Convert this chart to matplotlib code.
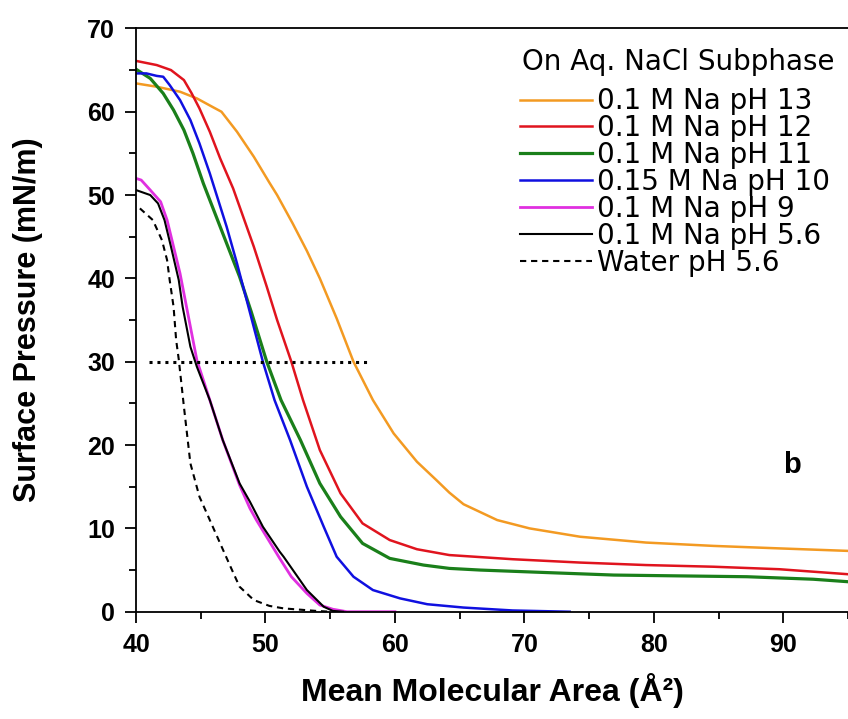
import matplotlib.pyplot as plt
from matplotlib.ticker import MultipleLocator

# isotherm traces: (mean molecular area, surface pressure)
ph13_x = [40, 41.6, 43.4, 44.7, 46.0, 46.6, 47.8, 49.1, 50.3, 50.9, 52.1, 53.2, 54.2, 55.5, 56.8, 58.3, 59.9, 61.7, 63.2, 64.2, 65.3, 67.9, 70.4, 74.3, 79.4, 84.6, 89.7, 95]
ph13_y = [63.4, 63.0, 62.4, 61.6, 60.5, 60.0, 57.6, 54.6, 51.5, 50.0, 46.6, 43.3, 40.0, 35.2, 30.0, 25.4, 21.4, 18.0, 15.8, 14.3, 12.9, 11.0, 10.0, 9.0, 8.3, 7.9, 7.6, 7.3]

ph12_x = [40, 41.6, 42.7, 43.7, 44.3, 44.9, 45.7, 46.5, 47.5, 49.1, 50.1, 50.9, 52.0, 52.9, 54.2, 55.8, 57.5, 59.6, 61.7, 64.2, 69.1, 74.3, 79.4, 84.6, 89.7, 95]
ph12_y = [66.1, 65.6, 65.0, 63.8, 62.2, 60.4, 57.6, 54.4, 50.8, 43.8, 39.0, 35.0, 30.0, 25.4, 19.4, 14.2, 10.6, 8.6, 7.5, 6.8, 6.3, 5.9, 5.6, 5.4, 5.1, 4.5]

ph11_x = [40, 41.1, 42.1, 42.9, 43.7, 44.4, 45.2, 46.0, 46.7, 48.0, 48.9, 50.1, 51.2, 52.7, 54.2, 55.8, 57.5, 59.6, 62.2, 64.2, 66.6, 71.7, 76.9, 82.0, 87.2, 92.3, 95]
ph11_y = [65.1, 64.0, 62.2, 60.2, 57.8, 55.0, 51.4, 48.2, 45.4, 40.2, 36.0, 30.0, 25.4, 20.6, 15.4, 11.4, 8.2, 6.4, 5.6, 5.2, 5.0, 4.7, 4.4, 4.3, 4.2, 3.9, 3.6]

ph10_x = [40, 40.8, 41.6, 42.1, 42.6, 43.4, 44.2, 44.9, 45.7, 47.0, 47.8, 48.7, 49.8, 50.7, 51.9, 53.2, 54.5, 55.5, 56.8, 58.3, 60.4, 62.5, 65.3, 69.1, 73.5]
ph10_y = [64.6, 64.6, 64.3, 64.2, 63.2, 61.4, 59.0, 56.2, 52.6, 46.2, 41.8, 36.5, 30.0, 25.4, 20.6, 15.0, 10.2, 6.6, 4.2, 2.6, 1.6, 0.9, 0.5, 0.15, 0.0]

ph9_x = [40, 40.4, 41.1, 41.9, 42.4, 42.9, 43.4, 43.8, 44.2, 44.7, 45.7, 46.7, 48.0, 48.8, 49.3, 51.1, 52.0, 53.2, 54.2, 55.2, 56.3, 60]
ph9_y = [52.0, 51.8, 50.6, 49.2, 47.0, 43.8, 40.6, 37.4, 34.2, 30.2, 25.4, 20.6, 15.2, 12.4, 11.0, 6.4, 4.2, 2.2, 0.8, 0.3, 0.0, 0.0]

ph56_x = [40, 41.1, 41.7, 42.2, 42.7, 43.3, 43.6, 44.2, 44.7, 45.7, 46.7, 48.0, 48.8, 49.8, 51.1, 51.4, 53.2, 54.5, 55.2, 56.0]
ph56_y = [50.6, 50.0, 49.0, 47.0, 43.8, 39.8, 36.6, 31.8, 29.4, 25.4, 20.6, 15.4, 13.2, 10.2, 7.2, 6.6, 2.6, 0.6, 0.1, 0.0]

water_x = [40.3, 41.3, 42.0, 42.4, 42.6, 42.9, 43.1, 43.3, 43.7, 44.2, 44.9, 45.7, 46.5, 47.3, 48.0, 49.1, 50.3, 51.4, 53.9, 55.0]
water_y = [48.4, 47.0, 44.6, 42.2, 39.8, 36.6, 32.6, 30.3, 24.6, 17.8, 13.8, 11.0, 8.2, 5.4, 3.0, 1.4, 0.7, 0.4, 0.1, 0.0]

# 30 mN/m reference line
ref_x = [41.0, 58.1]
ref_y = [30, 30]

bold_font = ["Liberation Sans", "DejaVu Sans"]
legend_font = ["DejaVu Sans"]

fig = plt.figure(figsize=(8.48, 7.19), dpi=100)
ax = fig.add_axes([0.1604, 0.1492, 0.8396, 0.8113])

ax.plot(ph13_x, ph13_y, c="#F39A22", lw=1.8, label="0.1 M Na pH 13")
ax.plot(ph12_x, ph12_y, c="#E0141E", lw=1.8, label="0.1 M Na pH 12")
ax.plot(ph11_x, ph11_y, c="#1A7F1A", lw=2.3, label="0.1 M Na pH 11")
ax.plot(ph10_x, ph10_y, c="#1010E0", lw=1.8, label="0.15 M Na pH 10")
ax.plot(ph9_x, ph9_y, c="#E030E0", lw=2.0, label="0.1 M Na pH 9")
ax.plot(ph56_x, ph56_y, c="black", lw=1.5, label="0.1 M Na pH 5.6")
ax.plot(water_x, water_y, c="black", lw=1.5, ls=(0, (3, 2.3)), label="Water pH 5.6")
ax.plot(ref_x, ref_y, c="black", lw=2.2, ls=(0, (1, 1.6)))

ax.set_xlim(40, 95)
ax.set_ylim(0, 70)
ax.xaxis.set_major_locator(MultipleLocator(10))
ax.xaxis.set_minor_locator(MultipleLocator(5))
ax.yaxis.set_major_locator(MultipleLocator(10))
ax.yaxis.set_minor_locator(MultipleLocator(5))
ax.tick_params(which="major", direction="out", length=8, width=1.3, pad=7)
ax.tick_params(which="minor", direction="out", length=5, width=1.3)
ax.spines["right"].set_visible(False)
for s in ["left", "bottom", "top"]:
    ax.spines[s].set_linewidth(1.3)

for lab in ax.get_xticklabels() + ax.get_yticklabels():
    lab.set_family(bold_font)
    lab.set_fontweight("bold")
    lab.set_fontsize(18)

ax.set_xlabel("Mean Molecular Area (Å²)", family=bold_font, fontweight="bold", fontsize=23, labelpad=12)
ax.set_ylabel("Surface Pressure (mN/m)", family=bold_font, fontweight="bold", fontsize=22, labelpad=32)

ax.text(90.7, 17.6, "b", family=bold_font, fontweight="bold", fontsize=21, ha="center", va="center")

# legend heading drawn on its own so the gap below it can be set
ax.text(0.542, 0.943, "On Aq. NaCl Subphase", transform=ax.transAxes, family=legend_font,
        fontsize=20, ha="left", va="center")
leg = ax.legend(loc="upper left", bbox_to_anchor=(0.539, 0.899), frameon=False,
                prop={"family": legend_font, "size": 20},
                handlelength=2.6, handletextpad=0.18, labelspacing=-0.04, borderaxespad=0, borderpad=0)

fig.savefig("out.png", dpi=100)
